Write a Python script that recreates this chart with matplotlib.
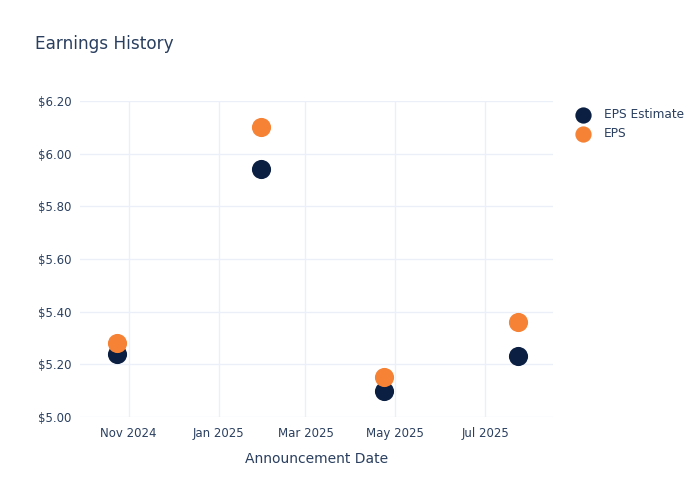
import matplotlib
matplotlib.use("Agg")
import matplotlib.pyplot as plt
import matplotlib.dates as mdates
import matplotlib.ticker as mticker
import numpy as np
from datetime import datetime

dates = ["2024-10-24", "2025-01-30", "2025-04-23", "2025-07-23"]
eps_estimate = [5.24, 5.94, 5.10, 5.23]
eps_actual = [5.28, 6.10, 5.15, 5.36]
y_ticks = [5.0, 5.2, 5.4, 5.6, 5.8, 6.0, 6.2]
x_tick_dates = ["2024-11-01", "2025-01-01", "2025-03-01", "2025-05-01", "2025-07-01"]

txt = "#2a3f5f"
grid = "#ebf0f8"
navy = "#0b1f42"
orange = "#f58235"

x = [datetime.strptime(d, "%Y-%m-%d") for d in dates]

fig = plt.figure(figsize=(7, 5), dpi=100)
ax = fig.add_axes([80/700, 83/500, 473/700, 316/500])

ax.scatter(x, eps_estimate, s=190, color=navy, label="EPS Estimate", zorder=3, clip_on=False, linewidths=0)
ax.scatter(x, eps_actual, s=190, color=orange, label="EPS", zorder=4, clip_on=False, linewidths=0)

ax.set_xlim(datetime(2024, 9, 29), datetime(2025, 8, 16))
ax.set_ylim(5.0, 6.2)
ax.set_yticks(y_ticks)
ax.yaxis.set_major_formatter(mticker.FuncFormatter(lambda v, p: f"${v:.2f}"))
xt = [datetime.strptime(d, "%Y-%m-%d") for d in x_tick_dates]
ax.set_xticks(xt)
ax.xaxis.set_major_formatter(mdates.DateFormatter("%b %Y"))

for s in ax.spines.values():
    s.set_visible(False)
ax.grid(True, color=grid, linewidth=1, zorder=0)
ax.set_axisbelow(True)
ax.tick_params(axis="both", length=0, labelsize=8.5, colors=txt, pad=6)
ax.tick_params(axis="x", pad=7)

ax.set_xlabel("Announcement Date", fontsize=10, color=txt, labelpad=9)
fig.text(35/700, 1 - 44/500, "Earnings History", fontsize=12.2, color=txt, va="center", ha="left")

leg = ax.legend(loc="upper left", bbox_to_anchor=(566/700, 1 - 103/500), bbox_transform=fig.transFigure,
                frameon=False, fontsize=8.7, labelcolor=txt, handletextpad=0.75, labelspacing=0.55,
                markerscale=0.85, borderaxespad=0)

fig.savefig("out.png", dpi=100)
